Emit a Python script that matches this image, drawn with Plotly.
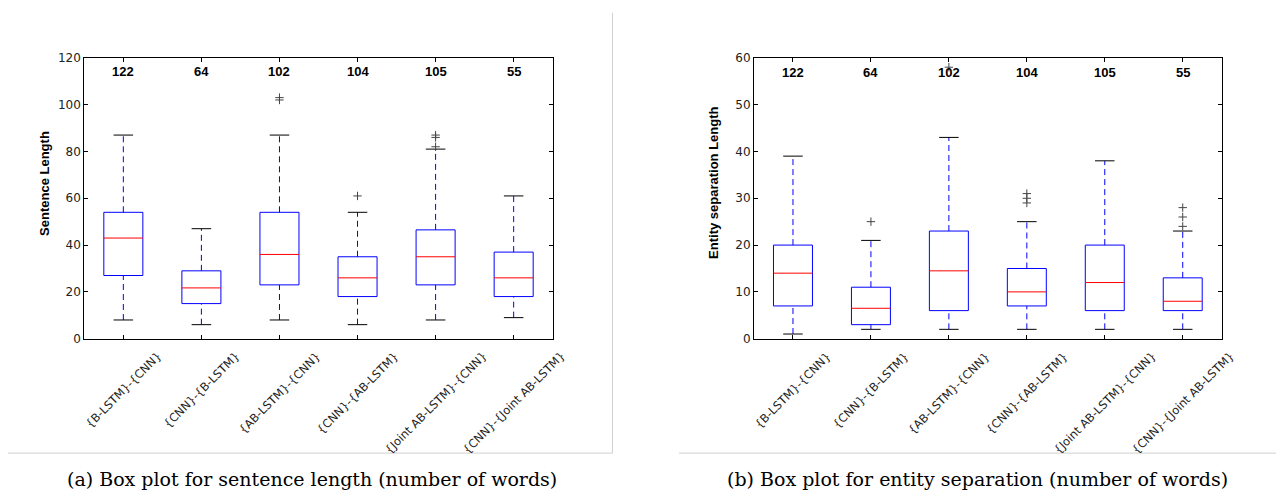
import plotly.graph_objects as go

# ---------------- data ----------------
categories = ["{B-LSTM}-{CNN}", "{CNN}-{B-LSTM}", "{AB-LSTM}-{CNN}",
              "{CNN}-{AB-LSTM}", "{Joint AB-LSTM}-{CNN}", "{CNN}-{Joint AB-LSTM}"]
counts = [122, 64, 102, 104, 105, 55]

# (a) sentence length
sent_low = [8, 6, 8, 6, 8, 9]
sent_q1 = [27, 15, 23, 18, 23, 18]
sent_med = [43, 21.7, 36, 26, 35, 26]
sent_q3 = [54, 29, 54, 35, 46.5, 37]
sent_high = [87, 47, 87, 54, 81, 61]
sent_out = [[], [], [102, 103], [61], [82, 86, 87], []]

# (b) entity separation
ent_low = [1, 2, 2, 2, 2, 2]
ent_q1 = [7, 3, 6, 7, 6, 6]
ent_med = [14, 6.5, 14.5, 10, 12, 8]
ent_q3 = [20, 11, 23, 15, 20, 13]
ent_high = [39, 21, 43, 25, 38, 23]
ent_out = [[], [25], [58], [29, 30, 31], [], [24, 26, 28]]

sent_yticks = [0, 20, 40, 60, 80, 100, 120]
ent_yticks = [0, 10, 20, 30, 40, 50, 60]

captions = ["(a) Box plot for sentence length (number of words)",
            "(b) Box plot for entity separation (number of words)"]
ytitles = ["Sentence Length", "Entity separation Length"]

# ---------------- figure ----------------
W, H = 1276, 498


def px(xp):
    return xp / W


def py(yp):
    return (H - yp) / H


fig = go.Figure()
positions = list(range(1, len(categories) + 1))
HALF = 0.25
CAP = 0.125


def add_panel(xa, ya, low, q1, med, q3, high, outs):
    bx, by, wx, wy, cx, cy, mx, my, ox, oy = [], [], [], [], [], [], [], [], [], []
    for p, lo, a, m, b, hi, o in zip(positions, low, q1, med, q3, high, outs):
        bx += [p - HALF, p + HALF, p + HALF, p - HALF, p - HALF, None]
        by += [a, a, b, b, a, None]
        wx += [p, p, None, p, p, None]
        wy += [lo, a, None, b, hi, None]
        cx += [p - CAP, p + CAP, None, p - CAP, p + CAP, None]
        cy += [lo, lo, None, hi, hi, None]
        mx += [p - HALF, p + HALF, None]
        my += [m, m, None]
        ox += [p] * len(o)
        oy += list(o)
    common = dict(xaxis=xa, yaxis=ya, hoverinfo="skip", showlegend=False)
    fig.add_trace(go.Scatter(x=wx, y=wy, mode="lines",
                             line=dict(color="#0000ff", width=1, dash="6px,4px"), **common))
    fig.add_trace(go.Scatter(x=cx, y=cy, mode="lines",
                             line=dict(color="#000000", width=1), **common))
    fig.add_trace(go.Scatter(x=bx, y=by, mode="lines",
                             line=dict(color="#0000ff", width=1), **common))
    fig.add_trace(go.Scatter(x=mx, y=my, mode="lines",
                             line=dict(color="#ff0000", width=1), **common))
    fig.add_trace(go.Scatter(x=ox, y=oy, mode="markers",
                             marker=dict(symbol="cross-thin", size=6,
                                         line=dict(color="#444444", width=1)), **common))


add_panel("x", "y", sent_low, sent_q1, sent_med, sent_q3, sent_high, sent_out)
add_panel("x2", "y2", ent_low, ent_q1, ent_med, ent_q3, ent_high, ent_out)

ydom = [py(341.3), py(52.3)]
xdom1 = [px(84.3), px(552.7)]
xdom2 = [px(754.0), px(1221.7)]

axis_common = dict(showline=True, linecolor="#000000", linewidth=1, mirror="ticks",
                   ticks="inside", ticklen=4, tickcolor="#000000", showgrid=False,
                   zeroline=False, tickfont=dict(family="DejaVu Sans", size=12, color="#222222"))

xcommon = dict(axis_common, range=[0.5, 6.5], tickvals=positions, showticklabels=False)

fig.update_layout(
    width=W, height=H, margin=dict(l=0, r=0, t=0, b=0),
    paper_bgcolor="white", plot_bgcolor="white",
    xaxis=dict(xcommon, domain=xdom1, anchor="y"),
    yaxis=dict(axis_common, domain=ydom, range=[0, 120], tickvals=sent_yticks, anchor="x"),
    xaxis2=dict(xcommon, domain=xdom2, anchor="y2"),
    yaxis2=dict(axis_common, domain=ydom, range=[0, 60], tickvals=ent_yticks, anchor="x2"),
)

ann = []
label_y_paper = py(349.5)
for xa, ya, ytop in (("x", "y", 114), ("x2", "y2", 56.8)):
    for p, c, n in zip(positions, categories, counts):
        ann.append(dict(x=p, y=ytop, xref=xa, yref=ya, text="<b>%d</b>" % n, showarrow=False,
                        font=dict(family="Liberation Sans", size=13, color="#000000"),
                        xanchor="center", yanchor="middle"))
        ann.append(dict(x=p, y=label_y_paper, xref=xa, yref="paper", text=c, showarrow=False,
                        textangle=-45, xanchor="center", yanchor="top",
                        font=dict(family="DejaVu Sans", size=11.5, color="#222222")))

for xpx, t in ((45, ytitles[0]), (714, ytitles[1])):
    ann.append(dict(x=px(xpx), y=py(181), xref="paper", yref="paper", text="<b>%s</b>" % t,
                    showarrow=False, textangle=-90, xanchor="center", yanchor="middle",
                    font=dict(family="Liberation Sans", size=13, color="#000000")))

for xpx, t in ((311.5, captions[0]), (977, captions[1])):
    ann.append(dict(x=px(xpx), y=py(486), xref="paper", yref="paper", text=t,
                    showarrow=False, xanchor="center", yanchor="middle",
                    font=dict(family="DejaVu Serif", size=19, color="#000000")))

fig.update_layout(annotations=ann)

# light frames of the sub-figures
gray = dict(color="#d0d0d0", width=1)
fig.update_layout(shapes=[
    dict(type="line", xref="paper", yref="paper", x0=px(612.5), x1=px(612.5),
         y0=py(6), y1=py(459), line=gray),
    dict(type="line", xref="paper", yref="paper", x0=px(8), x1=px(612.5),
         y0=py(459), y1=py(459), line=gray),
    dict(type="line", xref="paper", yref="paper", x0=px(679), x1=1.0,
         y0=py(459), y1=py(459), line=gray),
])

fig.write_html("out.html", config={"displayModeBar": False},
               post_script="document.body.style.margin='0';")
